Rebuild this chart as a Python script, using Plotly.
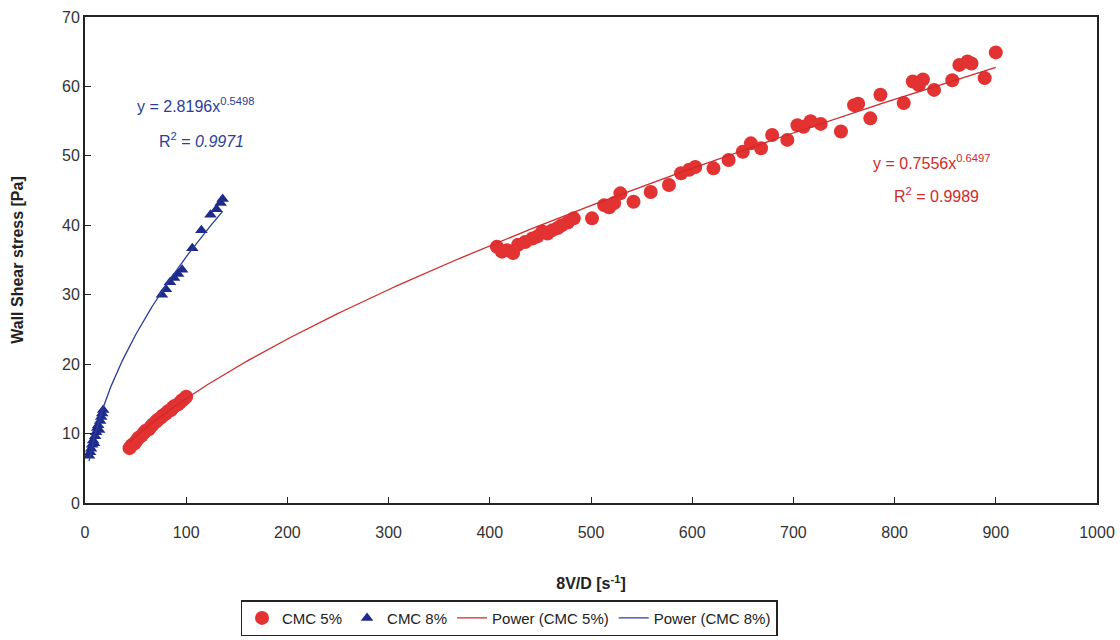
import numpy as np
import plotly.graph_objects as go

# ---- data ----
cmc5_x = [44, 46, 49, 51, 53, 56, 58, 60, 63, 65, 67, 70, 72, 75, 77, 80, 82, 85, 87, 89, 92, 94, 96, 98, 100,
          407, 412, 417, 423, 428, 435, 442, 447, 452, 457, 462, 467, 471, 477, 483, 501, 513, 518, 523, 529,
          542, 559, 577, 589, 597, 603, 621, 636, 650, 658, 668, 679, 694, 704, 710, 717, 727, 747, 760, 764,
          776, 786, 809, 818, 824, 828, 839, 857, 864, 872, 876, 889, 900]
cmc5_y = [7.9, 8.3, 8.6, 9.0, 9.4, 9.7, 10.1, 10.4, 10.6, 11.0, 11.3, 11.7, 12.0, 12.3, 12.6, 12.9, 13.2, 13.4,
          13.8, 14.0, 14.2, 14.5, 14.8, 15.0, 15.3,
          36.9, 36.2, 36.4, 36.0, 37.2, 37.6, 38.1, 38.4, 39.1, 38.8, 39.3, 39.6, 40.0, 40.4, 41.0, 41.0, 42.9,
          42.6, 43.2, 44.6, 43.4, 44.8, 45.8, 47.5, 48.0, 48.4, 48.2, 49.4, 50.6, 51.8, 51.1, 53.0, 52.3, 54.4,
          54.2, 55.0, 54.6, 53.5, 57.3, 57.5, 55.4, 58.8, 57.6, 60.7, 60.2, 61.0, 59.5, 60.9, 63.1, 63.6, 63.3,
          61.2, 64.9]

cmc8_x = [4, 5, 6, 7, 8, 9, 10, 11, 12, 13, 14, 15, 16, 17, 18,
          76, 80, 84, 88, 92, 96, 106, 115, 124, 130, 134, 136]
cmc8_y = [6.8, 7.3, 7.8, 8.4, 9.0, 8.6, 9.6, 10.2, 10.8, 11.2, 10.5, 11.8, 12.4, 12.9, 13.4,
          30.0, 30.8, 31.8, 32.4, 33.0, 33.6, 36.7, 39.3, 41.5, 42.3, 43.2, 43.8]

# power trendline coefficients shown on the chart
fit5_a, fit5_b = 0.7556, 0.6497
fit8_a, fit8_b = 2.8196, 0.5498

x_ticks = [0, 100, 200, 300, 400, 500, 600, 700, 800, 900, 1000]
y_ticks = [0, 10, 20, 30, 40, 50, 60, 70]

RED = "#e23232"
RED_LINE = "#d02a2a"
BLUE = "#1f2b8c"
BLUE_LINE = "#2a3d9a"

fx5 = np.linspace(min(cmc5_x), max(cmc5_x), 300)
fy5 = fit5_a * fx5 ** fit5_b
fx8 = np.linspace(min(cmc8_x), max(cmc8_x), 200)
fy8 = fit8_a * fx8 ** fit8_b

fig = go.Figure()
fig.add_trace(go.Scatter(x=cmc5_x, y=cmc5_y, mode="markers", name="CMC 5%",
                         marker=dict(symbol="circle", size=14, color=RED)))
fig.add_trace(go.Scatter(x=cmc8_x, y=cmc8_y, mode="markers", name="CMC 8%",
                         marker=dict(symbol="triangle-up", size=11, color=BLUE)))
fig.add_trace(go.Scatter(x=fx5, y=fy5, mode="lines", name="Power (CMC 5%)",
                         line=dict(color=RED_LINE, width=1.3)))
fig.add_trace(go.Scatter(x=fx8, y=fy8, mode="lines", name="Power (CMC 8%)",
                         line=dict(color=BLUE_LINE, width=1.3)))

font_fam = "Liberation Sans, Arial, sans-serif"

fig.add_annotation(x=109, y=57.3, xref="x", yref="y", showarrow=False,
                   text="y = 2.8196x<sup>0.5498</sup>", font=dict(size=16, color=BLUE_LINE, family=font_fam))
fig.add_annotation(x=115, y=52.3, xref="x", yref="y", showarrow=False,
                   text="R<sup>2</sup> = <i>0.9971</i>", font=dict(size=16, color=BLUE_LINE, family=font_fam))
fig.add_annotation(x=836, y=49.1, xref="x", yref="y", showarrow=False,
                   text="y = 0.7556x<sup>0.6497</sup>", font=dict(size=16, color=RED_LINE, family=font_fam))
fig.add_annotation(x=841, y=44.4, xref="x", yref="y", showarrow=False,
                   text="R<sup>2</sup> = 0.9989", font=dict(size=16, color=RED_LINE, family=font_fam))

fig.update_layout(
    width=1120, height=640,
    margin=dict(l=85, r=23, t=17, b=137),
    paper_bgcolor="white", plot_bgcolor="white",
    font=dict(family=font_fam, size=16, color="#333333"),
    showlegend=True,
    legend=dict(orientation="h", x=0.419, xanchor="center", xref="paper",
                y=0.006, yanchor="bottom", yref="container",
                bordercolor="#222222", borderwidth=1.5, font=dict(size=15, color="#222222"),
                itemwidth=30, tracegroupgap=0),
)
fig.update_xaxes(range=[0, 1000], tickvals=x_ticks, ticks="inside", ticklen=6, tickcolor="#222",
                 showline=True, linecolor="#222", linewidth=2, mirror=True, showgrid=False, zeroline=False,
                 tickfont=dict(size=16, color="#333"), ticklabelstandoff=14, automargin=False,
                 title=dict(text="<b>8V/D [s<sup>-1</sup>]</b>", font=dict(size=16, color="#222"), standoff=38))
fig.update_yaxes(range=[0, 70], tickvals=y_ticks, ticks="inside", ticklen=6, tickcolor="#222",
                 showline=True, linecolor="#222", linewidth=2, mirror=True, showgrid=False, zeroline=False,
                 tickfont=dict(size=16, color="#333"), automargin=False,
                 title=dict(text="<b>Wall Shear stress [Pa]</b>", font=dict(size=16, color="#222"), standoff=34))

fig.write_html("out.html")
